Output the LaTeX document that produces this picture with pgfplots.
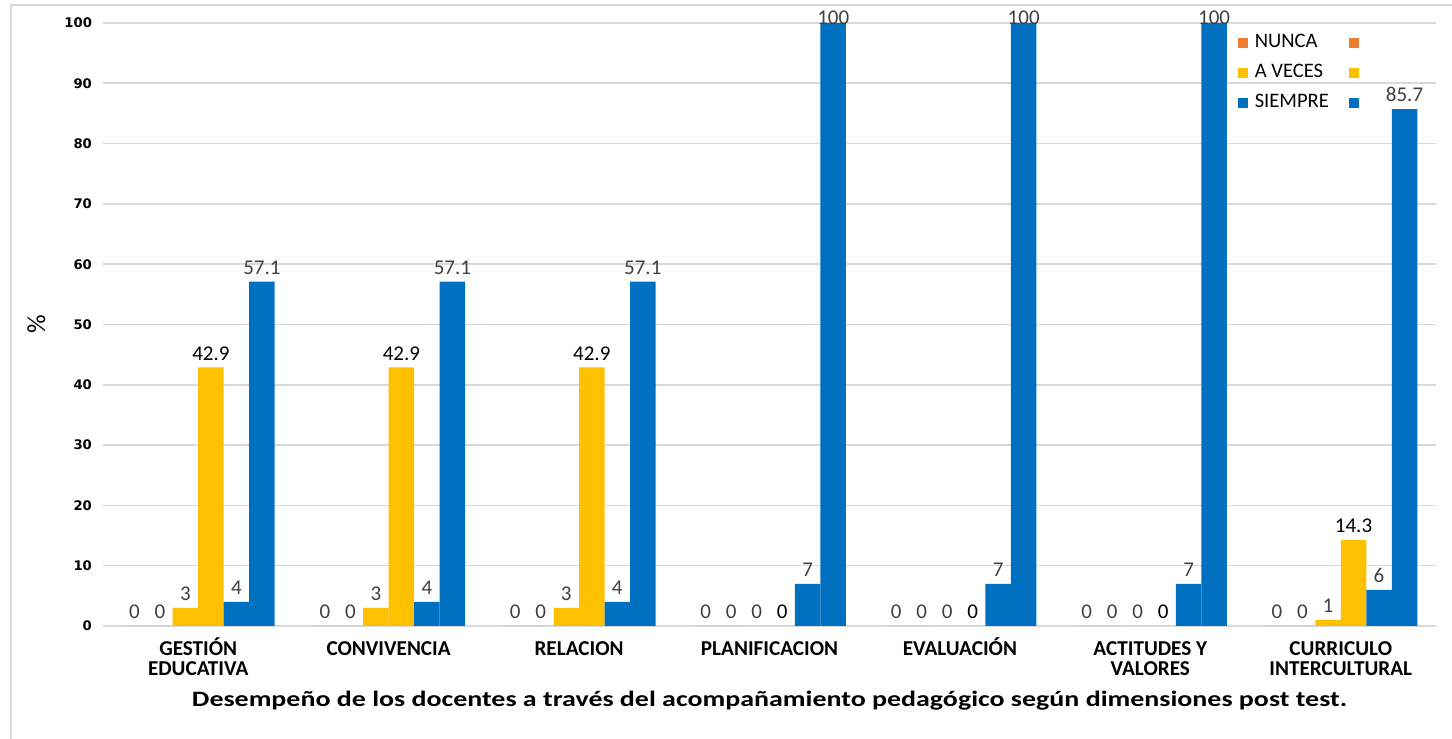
\documentclass[border=0pt]{standalone}
\usepackage{graphicx}
\usepackage{pgfplots}
\usepackage{pgfplotstable}
\pgfplotsset{compat=1.18}
\usepackage{fontspec}
\setmainfont{Carlito}
\newfontfamily\tickfont{DejaVu Sans}[BoldFont={DejaVu Sans Bold}]

\definecolor{cnunca}{HTML}{ED7D31}
\definecolor{caveces}{HTML}{FFC000}
\definecolor{csiempre}{HTML}{0070C0}
\definecolor{cgrid}{HTML}{D9D9D9}
\definecolor{clabel}{HTML}{404040}

\newcommand\lh{\rule{0pt}{9.5pt}}

% columnas: frecuencia y porcentaje de cada respuesta
\pgfplotstableread{
x nc  np  ac  ap    sc  sp
0 0   0   3   42.9  4   57.1
1 0   0   3   42.9  4   57.1
2 0   0   3   42.9  4   57.1
3 0   0   0   0     7   100
4 0   0   0   0     7   100
5 0   0   0   0     7   100
6 0   0   1   14.3  6   85.7
}\datos

\begin{document}
\begin{tikzpicture}
\useasboundingbox (-51.5pt,-56.5pt) rectangle (674.5pt,313pt);
\draw[cgrid, line width=0.8pt] (-46pt,-56.5pt) -- (-46pt,310.5pt) -- (674.5pt,310.5pt);
\begin{axis}[
    scale only axis,
    width=666.5pt, height=301.5pt,
    ybar=0pt, bar width=12.75pt,
    xmin=-0.5, xmax=6.5,
    ymin=0, ymax=100,
    ytick={0,10,...,100},
    xtick=data,
    xticklabels={{\lh GESTIÓN\\EDUCATIVA},\lh CONVIVENCIA,\lh RELACION,\lh PLANIFICACION,\lh EVALUACIÓN,{\lh ACTITUDES Y\\VALORES},{\lh CURRICULO\\INTERCULTURAL}},
    xticklabel style={align=center, anchor=north, inner sep=0pt, font=\bfseries\fontsize{10.6}{10.2}\selectfont, text=black, yshift=-5pt},
    yticklabel style={font=\tickfont\bfseries\fontsize{6.6}{8}\selectfont, text=black, xshift=-2pt},
    /pgf/number format/assume math mode=true,
    major tick length=0pt,
    axis line style={draw=none},
    ymajorgrids, major grid style={draw=cgrid, line width=0.8pt},
    clip=false,
    ylabel={\%},
    ylabel style={at={(axis description cs:-0.05,0.5)}, anchor=center, font=\fontsize{13}{15}\selectfont},
    xlabel={\scalebox{1.27}[1]{Desempeño de los docentes a través del acompañamiento pedagógico según dimensiones post test.}},
    xlabel style={at={(axis description cs:0.5,0)}, anchor=center, yshift=-37.5pt, font=\bfseries\fontsize{11}{13}\selectfont},
    nodes near coords,
    every node near coord/.append style={font=\fontsize{10.5}{12}\selectfont, text=clabel},
    legend columns=2,
    legend style={at={(axis description cs:0.851,0.983)}, anchor=north west, draw=none, fill=none,
        font=\fontsize{10.3}{12}\selectfont, inner sep=0pt,
        nodes={inner sep=0pt, text height=7pt, text depth=2pt, anchor=west},
        row sep=6pt,
        /tikz/every odd column/.append style={column sep=3.5pt},
        /tikz/every even column/.append style={column sep=10pt}},
    legend image code/.code={\fill[#1] (0pt,-2.5pt) rectangle (5pt,2.5pt);},
]
\addplot[fill=cnunca, draw=none] table[x=x, y=nc] {\datos};
\addlegendentry{NUNCA}
\addplot[fill=cnunca, draw=none] table[x=x, y=np] {\datos};
\addlegendentry{\mbox{}}
\addplot[fill=caveces, draw=none] table[x=x, y=ac] {\datos};
\addlegendentry{A VECES}
\addplot[fill=caveces, draw=none, nodes near coords style={text=black}] table[x=x, y=ap] {\datos};
\addlegendentry{\mbox{}}
\addplot[fill=csiempre, draw=none] table[x=x, y=sc] {\datos};
\addlegendentry{SIEMPRE}
\addplot[fill=csiempre, draw=none, visualization depends on={y \as \rawy},
    nodes near coords style={yshift={ifthenelse(\rawy>99,-4.5,0)}}] table[x=x, y=sp] {\datos};
\addlegendentry{\mbox{}}
\end{axis}
\end{tikzpicture}
\end{document}
